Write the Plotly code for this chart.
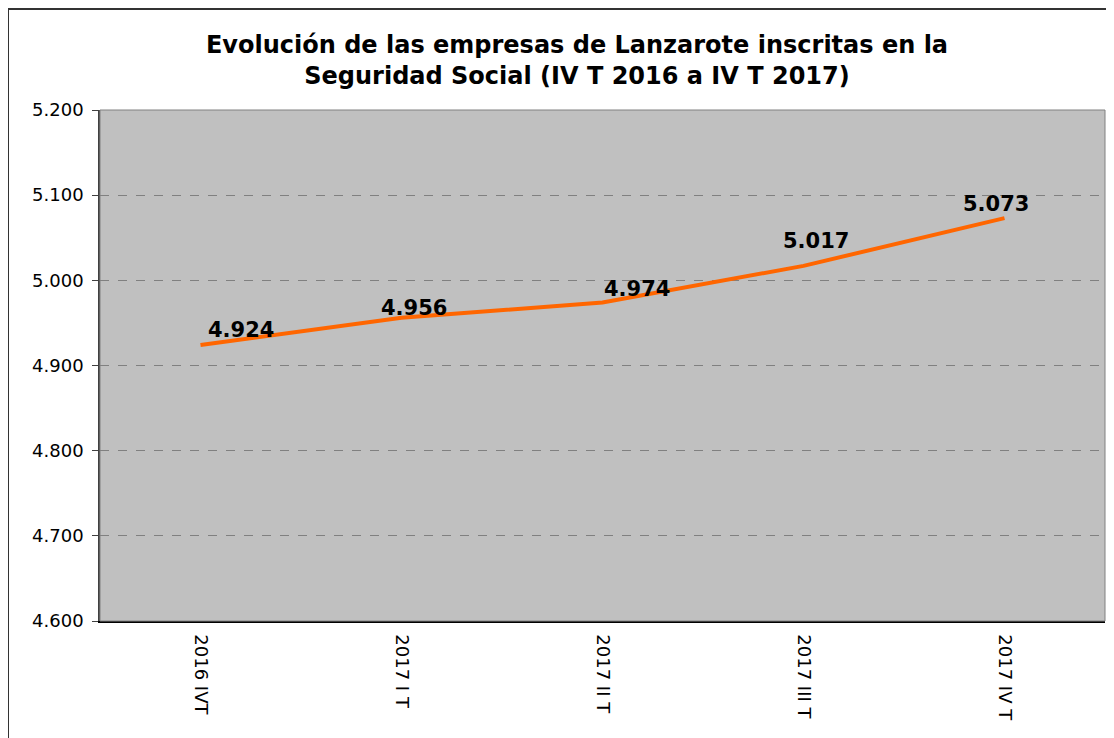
import plotly.graph_objects as go

categories = ["2016 IVT", "2017 I T", "2017 II T", "2017 III T", "2017 IV T"]
empresas = [4924, 4956, 4974, 5017, 5073]
y_ticks = [4600, 4700, 4800, 4900, 5000, 5100, 5200]

# label offsets (pixels) relative to each point, mimicking the reference placement
label_dx = [40, 12, 34, 12, -9]
label_dy = [15, 10, 13, 25, 14]

def fmt(v):
    return f"{v/1000:.3f}"

fig = go.Figure()
fig.add_trace(go.Scatter(
    x=list(range(len(categories))), y=empresas, mode="lines",
    line=dict(color="#FF6600", width=4), hoverinfo="skip", showlegend=False,
))

for i, v in enumerate(empresas):
    fig.add_annotation(x=i, y=v, text=f"<b>{fmt(v)}</b>", showarrow=False,
                       xshift=label_dx[i], yshift=label_dy[i],
                       font=dict(family="DejaVu Sans", size=21, color="black"))

OFF = 8  # page body margin
W, H = 1114 - OFF, 738 - OFF
L, R, T = 100 - OFF, 9, 110 - OFF
ph = 511
B = H - T - ph
pw = W - L - R

# outer chart border
fig.add_shape(type="rect", xref="paper", yref="paper",
              x0=(8 - OFF - L) / pw, x1=(W + 10 - L) / pw,
              y0=-(H + 10 - (H - B)) / ph, y1=1 + (T - (8 - OFF) - 1) / ph,
              line=dict(color="#333333", width=2), layer="below")
# plot area border (top/right grey)
fig.add_shape(type="rect", xref="paper", yref="paper", x0=0, x1=1, y0=0, y1=1,
              line=dict(color="#808080", width=1), layer="above")

fig.update_layout(
    width=W, height=H,
    margin=dict(l=L, r=R, t=T, b=B),
    paper_bgcolor="white", plot_bgcolor="#C0C0C0",
    font=dict(family="DejaVu Sans", size=18, color="black"),
    title=dict(text="<b>Evolución de las empresas de Lanzarote inscritas en la<br>Seguridad Social (IV T 2016 a IV T 2017)</b>",
               xref="paper", x=(577 - 100) / pw, xanchor="center",
               yref="container", y=1 - 45 / H, yanchor="middle",
               font=dict(family="DejaVu Sans", size=24, color="black")),
    xaxis=dict(range=[-0.5, len(categories) - 0.5], tickmode="array",
               tickvals=list(range(len(categories))), ticktext=categories,
               tickangle=90, showgrid=False, zeroline=False,
               showline=True, linecolor="black", linewidth=1.5, ticks="",
               ticklabelstandoff=8, tickfont=dict(size=18)),
    yaxis=dict(range=[4600, 5200], tickmode="array", tickvals=y_ticks,
               ticktext=[fmt(v) for v in y_ticks], showgrid=True,
               gridcolor="#808080", griddash="dash", gridwidth=1, zeroline=False,
               showline=True, linecolor="#404040", linewidth=1.5,
               ticks="outside", ticklen=6, tickcolor="#404040",
               ticklabelstandoff=5, tickfont=dict(size=18)),
)

fig.write_html("out.html")
